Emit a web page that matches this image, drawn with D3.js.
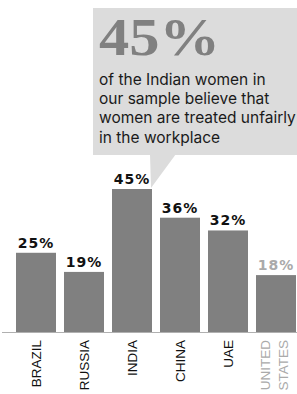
<!DOCTYPE html>
<html>
<head>
<meta charset="utf-8">
<script src="https://cdn.jsdelivr.net/npm/d3@7"></script>
<style>
  body { margin: 0; background: #fff; }
  svg { display: block; }
</style>
</head>
<body>
<svg width="297" height="394"></svg>
<script>
// data
var countries = ["BRAZIL", "RUSSIA", "INDIA", "CHINA", "UAE", "UNITED STATES"];
var values = [25, 19, 45, 36, 32, 18];
var calloutValue = "45%";
var calloutLines = ["of the Indian women in", "our sample believe that", "women are treated unfairly", "in the workplace"];

var svg = d3.select("svg"),
    baseline = 332.5;

var x = d3.scaleBand()
    .domain(countries)
    .range([16, 296])
    .paddingInner(1 / 6)
    .paddingOuter(0);

var y = d3.scaleLinear()
    .domain([0, 45])
    .range([baseline, 189]);

// callout box + pointer
svg.append("rect")
    .attr("x", 93)
    .attr("y", 8)
    .attr("width", 210)
    .attr("height", 147)
    .attr("fill", "#dcdcdc");

svg.append("path")
    .attr("d", "M150,154 L176,154 L151,188 Z")
    .attr("fill", "#dcdcdc");

svg.append("text")
    .attr("x", 99)
    .attr("y", 55)
    .attr("font-family", "'Liberation Serif', serif")
    .attr("font-weight", "bold")
    .attr("font-size", 52)
    .attr("textLength", 121)
    .attr("lengthAdjust", "spacingAndGlyphs")
    .attr("fill", "#808080")
    .text(calloutValue);

svg.append("g").selectAll("text")
    .data(calloutLines)
    .enter().append("text")
    .attr("x", 99)
    .attr("y", (d, i) => 85 + i * 19.2)
    .attr("font-family", "Inter, sans-serif")
    .attr("font-size", 15.5)
    .attr("fill", "#1a1a1a")
    .text(d => d);

// bars
svg.append("g").selectAll("rect")
    .data(values)
    .enter().append("rect")
    .attr("x", (d, i) => x(countries[i]))
    .attr("y", d => y(d))
    .attr("width", x.bandwidth())
    .attr("height", d => baseline - y(d))
    .attr("fill", "#808080");

// axis line
svg.append("line")
    .attr("x1", 2)
    .attr("x2", 297)
    .attr("y1", baseline)
    .attr("y2", baseline)
    .attr("stroke", "#b0b0b0")
    .attr("stroke-width", 1);

// value labels
svg.append("g").selectAll("text")
    .data(values)
    .enter().append("text")
    .attr("x", (d, i) => x(countries[i]) + x.bandwidth() / 2)
    .attr("y", d => y(d) - 5)
    .attr("text-anchor", "middle")
    .attr("font-family", "'DejaVu Sans', sans-serif")
    .attr("font-weight", "bold")
    .attr("font-size", 14)
    .attr("letter-spacing", 1)
    .attr("fill", (d, i) => countries[i] === "UNITED STATES" ? "#aaa" : "#111")
    .text(d => d + "%");

// category labels, rotated
var cat = svg.append("g").selectAll("text")
    .data(countries)
    .enter().append("text")
    .attr("transform", d => "translate(" + (x(d) + x.bandwidth() / 2) + ",340) rotate(-90)")
    .attr("text-anchor", "end")
    .attr("font-family", "'Liberation Sans', Arial, sans-serif")
    .attr("font-size", 13.5)
    .attr("fill", d => d === "UNITED STATES" ? "#aaa" : "#111");

cat.each(function(d) {
    var words = d === "UNITED STATES" ? ["UNITED", "STATES"] : [d];
    var offs = words.length > 1 ? [-6, 12] : [5];
    d3.select(this).selectAll("tspan")
        .data(words)
        .enter().append("tspan")
        .attr("x", 0)
        .attr("y", (w, i) => offs[i])
        .text(w => w);
});
</script>
</body>
</html>
